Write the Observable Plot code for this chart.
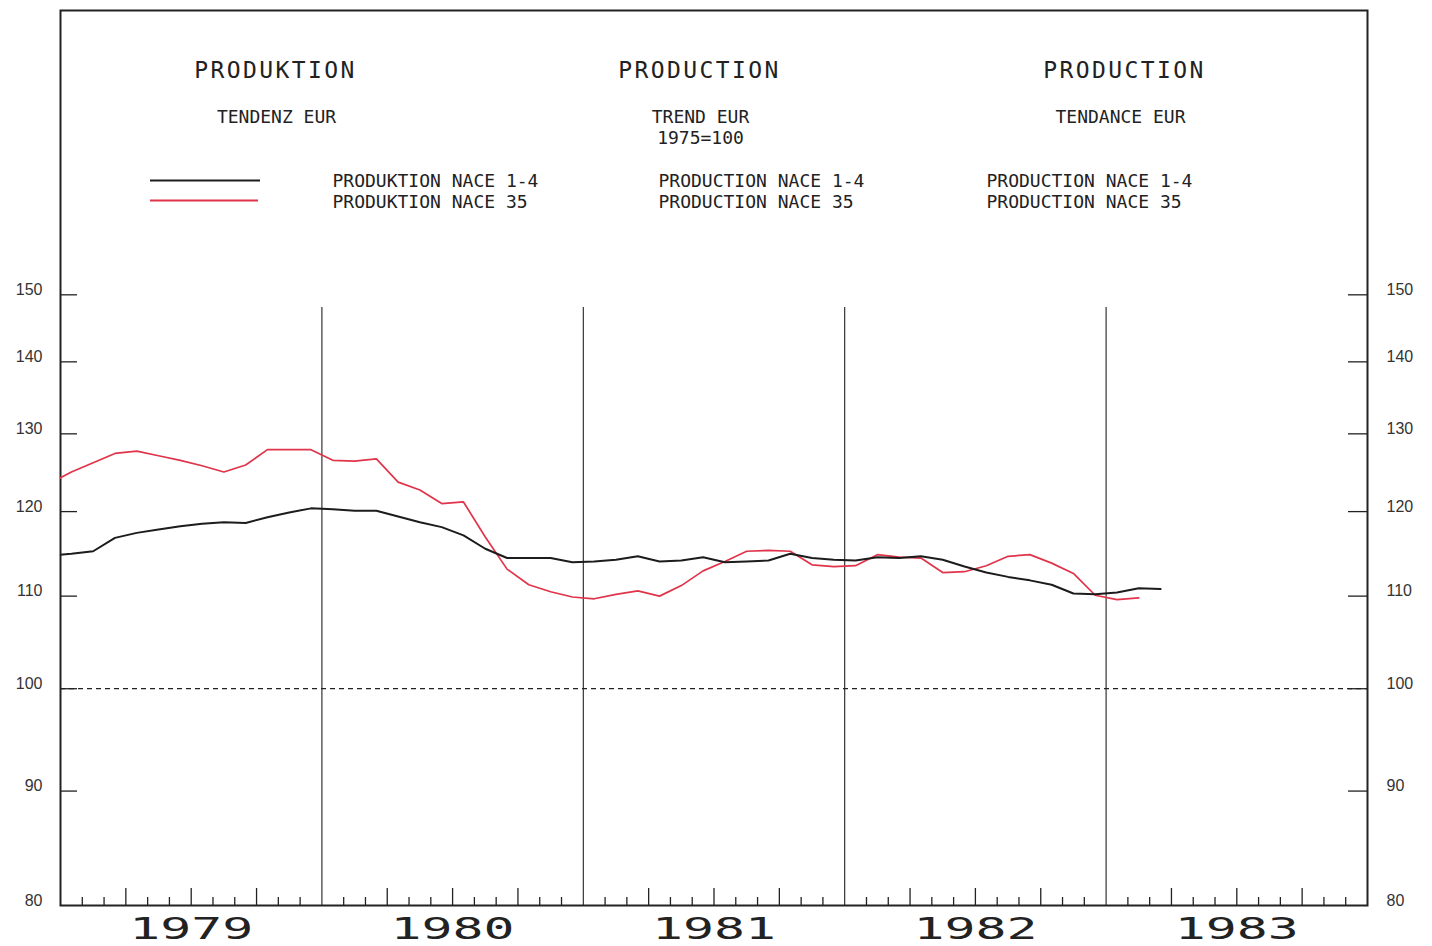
<!DOCTYPE html>
<html><head><meta charset="utf-8">
<script src="https://cdn.jsdelivr.net/npm/d3@7"></script>
<script src="https://cdn.jsdelivr.net/npm/@observablehq/plot@0.6"></script>
<style>
html,body{margin:0;padding:0;background:#fff;}
#chart svg{display:block;}
</style></head><body><div id="chart"></div>
<script>
// months since January 1979 of the first observation (December 1978)
const firstMonth = -1;
// PRODUKTION NACE 1-4 (trend, EUR, 1975=100), monthly
const nace14 = [114.7,114.9,115.2,116.8,117.4,117.8,118.2,118.5,118.7,118.6,119.3,119.9,120.4,
  120.3,120.1,120.1,119.4,118.7,118.1,117.1,115.5,114.4,114.4,114.4,113.9,
  114.0,114.2,114.6,114.0,114.1,114.5,113.9,114.0,114.1,114.9,114.4,114.2,
  114.1,114.5,114.4,114.6,114.2,113.4,112.7,112.2,111.8,111.3,110.3,110.2,
  110.4,110.9,110.8];
// PRODUKTION NACE 35 (trend, EUR, 1975=100), monthly
const nace35 = [123.5,125.0,126.2,127.4,127.7,127.1,126.5,125.8,125.0,125.9,127.9,127.9,127.9,
  126.5,126.4,126.7,123.7,122.7,121.0,121.2,116.9,113.1,111.3,110.5,109.9,
  109.7,110.2,110.6,110.0,111.2,112.9,114.0,115.2,115.3,115.2,113.6,113.4,
  113.5,114.8,114.5,114.4,112.7,112.8,113.5,114.6,114.8,113.8,112.6,110.1,
  109.6,109.8];
const years = [1979, 1980, 1981, 1982, 1983];
const yTicks = [80, 90, 100, 110, 120, 130, 140, 150];
const baseline = [100];
const titles = ["PRODUKTION", "PRODUCTION", "PRODUCTION"];
const subtitles1 = ["TENDENZ EUR", "TREND EUR", "TENDANCE EUR"];
const subtitles2 = ["", "1975=100", ""];
const legend14 = ["PRODUKTION NACE 1-4", "PRODUCTION NACE 1-4", "PRODUCTION NACE 1-4"];
const legend35 = ["PRODUKTION NACE 35", "PRODUCTION NACE 35", "PRODUCTION NACE 35"];

const colBlack = "#1c1c1c", colRed = "#e0344a", ink = "#222";
const mono = "DejaVu Sans Mono";
const sans = "Liberation Sans";

const toT = i => 1979 + (firstMonth + i + 0.5) / 12;
const rows14 = nace14.map((v, i) => ({t: toT(i), v}));
const rows35 = nace35.map((v, i) => ({t: toT(i), v}));
const monthIdx = d3.range(1, 60);
const monthTicks = monthIdx.filter(i => i % 3 !== 0).map(i => 1979 + i / 12);
const quarterTicks = monthIdx.filter(i => i % 3 === 0 && i % 12 !== 0).map(i => 1979 + i / 12);
const yearLines = years.slice(1);
const innerW = 1432 - 60 - 65, innerH = 946 - 10 - 41;

const titleDx = [215, 639, 1064];
const subDx = [216, 640, 1060];
const legDx = [272, 598, 926];

const marks = [
  // ticks on bottom axis (inward)
  Plot.ruleX(monthTicks, {x: d => d, insetTop: innerH - 8, stroke: ink, strokeWidth: 1.3}),
  Plot.ruleX(quarterTicks, {x: d => d, insetTop: innerH - 17, stroke: ink, strokeWidth: 1.3}),
  // year separators
  Plot.ruleX(yearLines, {x: d => d, insetTop: 297, stroke: ink, strokeWidth: 1.1}),
  // y ticks inward left and right
  Plot.ruleY(yTicks.slice(1), {y: d => d, insetRight: innerW - 17, stroke: ink, strokeWidth: 1.3}),
  Plot.ruleY(yTicks.slice(1), {y: d => d, insetLeft: innerW - 19, stroke: ink, strokeWidth: 1.3}),
  Plot.ruleY(baseline, {y: d => d, stroke: ink, strokeWidth: 1.2, strokeDasharray: "5,4"}),
  Plot.frame({stroke: ink, strokeWidth: 2}),
  // y tick labels, both sides
  Plot.text(yTicks, {y: d => d, text: d => String(d), frameAnchor: "left", textAnchor: "end", dx: -18, dy: -5, fontSize: 16, fontFamily: sans, fill: "#333"}),
  Plot.text(yTicks, {y: d => d, text: d => String(d), frameAnchor: "right", textAnchor: "start", dx: 19, dy: -5, fontSize: 16, fontFamily: sans, fill: "#333"}),
  // year labels
  Plot.axisX({anchor: "bottom", ticks: years.map(y => y + 0.5), tickSize: 0, tickPadding: 12, fontSize: 30, fontFamily: mono, fill: "#222", label: null, tickFormat: d => String(Math.floor(d))}),
  // data lines
  Plot.line(rows35, {x: "t", y: "v", stroke: colRed, strokeWidth: 1.7, clip: true}),
  Plot.line(rows14, {x: "t", y: "v", stroke: colBlack, strokeWidth: 2, clip: true}),
  // legend swatches
  Plot.ruleY([0], {y: null, dy: 180 - (10 + 905) / 2, insetLeft: 90, insetRight: innerW - 200, stroke: colBlack, strokeWidth: 2}),
  Plot.ruleY([0], {y: null, dy: 200 - (10 + 905) / 2, insetLeft: 90, insetRight: innerW - 198, stroke: colRed, strokeWidth: 2})
];
const txt = {frameAnchor: "top-left", lineAnchor: "middle", fontFamily: mono, fill: ink};
titles.forEach((t, k) => marks.push(Plot.text([t], {...txt, text: d => d, textAnchor: "middle", dx: titleDx[k], dy: 60, fontSize: 23})));
subtitles1.forEach((t, k) => marks.push(Plot.text([t], {...txt, text: d => d, textAnchor: "middle", dx: subDx[k], dy: 107, fontSize: 18})));
subtitles2.forEach((t, k) => { if (t) marks.push(Plot.text([t], {...txt, text: d => d, textAnchor: "middle", dx: subDx[k], dy: 128, fontSize: 18})); });
legend14.forEach((t, k) => marks.push(Plot.text([t], {...txt, text: d => d, textAnchor: "start", dx: legDx[k], dy: 171, fontSize: 18})));
legend35.forEach((t, k) => marks.push(Plot.text([t], {...txt, text: d => d, textAnchor: "start", dx: legDx[k], dy: 192, fontSize: 18})));

const chart = Plot.plot({
  width: 1432, height: 946,
  marginLeft: 60, marginRight: 65, marginTop: 10, marginBottom: 41,
  style: {background: "#fff", overflow: "visible"},
  x: {type: "linear", domain: [1979, 1984]},
  y: {type: "log", domain: [80, 201], axis: null},
  marks
});
document.getElementById("chart").appendChild(chart);
d3.select(chart).selectAll("text")
  .filter(function() { return /^19[78]\d$/.test(this.textContent); })
  .attr("textLength", 124).attr("lengthAdjust", "spacingAndGlyphs");
d3.select(chart).selectAll("text")
  .filter(function() { return /^PRODU[CK]TION$/.test(this.textContent); })
  .style("letter-spacing", "2.4px");
</script></body></html>
